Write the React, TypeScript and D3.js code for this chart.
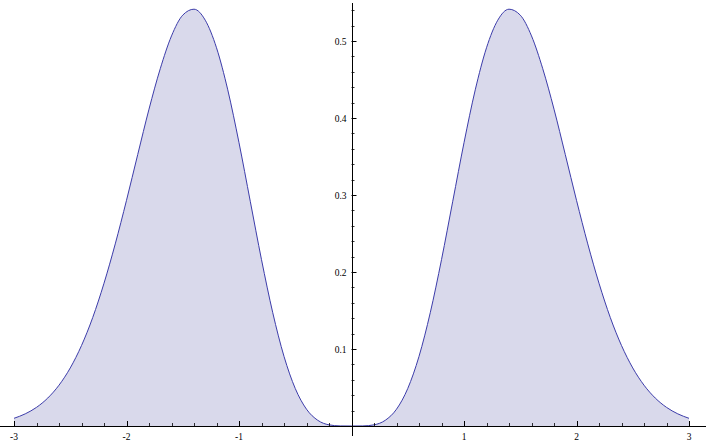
import React from 'react';
import * as d3 from 'd3';

const xs = [
  -3, -2.9, -2.8, -2.7, -2.6, -2.5, -2.4, -2.3, -2.2, -2.1, -2, -1.9, -1.8, -1.7, -1.6, -1.5,
  -1.4, -1.3, -1.2, -1.1, -1, -0.9, -0.8, -0.7, -0.6, -0.5, -0.4, -0.3, -0.2, -0.1, 0,
  0.1, 0.2, 0.3, 0.4, 0.5, 0.6, 0.7, 0.8, 0.9, 1, 1.1, 1.2, 1.3, 1.4, 1.5,
  1.6, 1.7, 1.8, 1.9, 2, 2.1, 2.2, 2.3, 2.4, 2.5, 2.6, 2.7, 2.8, 2.9, 3
];
const ys = [
  0.010, 0.0158, 0.0242, 0.0363, 0.053, 0.0754, 0.1045, 0.141, 0.1854, 0.2365, 0.2931, 0.3527, 0.4115, 0.464, 0.5066, 0.5336,
  0.5413, 0.527, 0.4912, 0.4366, 0.3679, 0.2919, 0.216, 0.1471, 0.0904, 0.0487, 0.0218, 0.0074, 0.0015, 0.0001, 0,
  0.0001, 0.0015, 0.0074, 0.0218, 0.0487, 0.0904, 0.1471, 0.216, 0.2919, 0.3679, 0.4366, 0.4912, 0.527, 0.5413, 0.5336,
  0.5066, 0.464, 0.4115, 0.3527, 0.2931, 0.2365, 0.1854, 0.141, 0.1045, 0.0754, 0.053, 0.0363, 0.0242, 0.0158, 0.010
];
const xTickLabels = [-3, -2, -1, 1, 2, 3];
const yTickLabels = [0.1, 0.2, 0.3, 0.4, 0.5];

const W = 706;
const H = 443;

export default function App() {
  const x = d3.scaleLinear().domain([-3, 3]).range([14, 689]);
  const y = d3.scaleLinear().domain([0, 0.5]).range([426, 41]);
  const pts: [number, number][] = xs.map((v, i) => [v, ys[i]]);

  const area = d3.area<[number, number]>()
    .x(d => x(d[0]))
    .y0(y(0))
    .y1(d => y(d[1]))
    .curve(d3.curveMonotoneX);
  const line = d3.line<[number, number]>()
    .x(d => x(d[0]))
    .y(d => y(d[1]))
    .curve(d3.curveMonotoneX);

  const xMinor = d3.range(-30, 31, 2).map(v => v / 10).filter(v => v !== 0 && !Number.isInteger(v));
  const yMinor = d3.range(2, 55, 2).map(v => v / 100).filter(v => Math.round(v * 100) % 10 !== 0);

  const x0 = x(0);
  const y0 = y(0);
  const font = 'Liberation Serif, serif';

  return (
    <svg width={W} height={H} style={{ position: 'absolute', left: 0, top: 0, background: '#fff' }}>
      <path d={area(pts) ?? ''} fill="#d9d9eb" />
      <path d={line(pts) ?? ''} fill="none" stroke="#3c3caa" strokeWidth={1} />

      {/* axes */}
      <line x1={0} x2={W} y1={y0 + 0.5} y2={y0 + 0.5} stroke="#000" />
      <line x1={Math.round(x0) + 0.5} x2={Math.round(x0) + 0.5} y1={3} y2={436} stroke="#000" />

      {/* x ticks */}
      {xTickLabels.map(t => (
        <g key={'xt' + t}>
          <line x1={Math.round(x(t)) + 0.5} x2={Math.round(x(t)) + 0.5} y1={y0} y2={y0 - 5} stroke="#000" />
          <text x={x(t)} y={y0 + 14} fontSize={9.5} fontFamily={font} textAnchor="middle">
            {t < 0 ? '-' + Math.abs(t) : t}
          </text>
        </g>
      ))}
      {xMinor.map(t => (
        <line key={'xm' + t} x1={Math.round(x(t)) + 0.5} x2={Math.round(x(t)) + 0.5} y1={y0} y2={y0 - 3} stroke="#000" strokeWidth={0.8} />
      ))}

      {/* y ticks */}
      {yTickLabels.map(t => (
        <g key={'yt' + t}>
          <line x1={x0} x2={x0 + 5} y1={Math.round(y(t)) + 0.5} y2={Math.round(y(t)) + 0.5} stroke="#000" />
          <text x={x0 - 5} y={y(t) + 3.5} fontSize={9.5} fontFamily={font} textAnchor="end">
            {t.toFixed(1)}
          </text>
        </g>
      ))}
      {yMinor.map(t => (
        <line key={'ym' + t} x1={x0} x2={x0 + 3} y1={Math.round(y(t)) + 0.5} y2={Math.round(y(t)) + 0.5} stroke="#000" strokeWidth={0.8} />
      ))}
    </svg>
  );
}
